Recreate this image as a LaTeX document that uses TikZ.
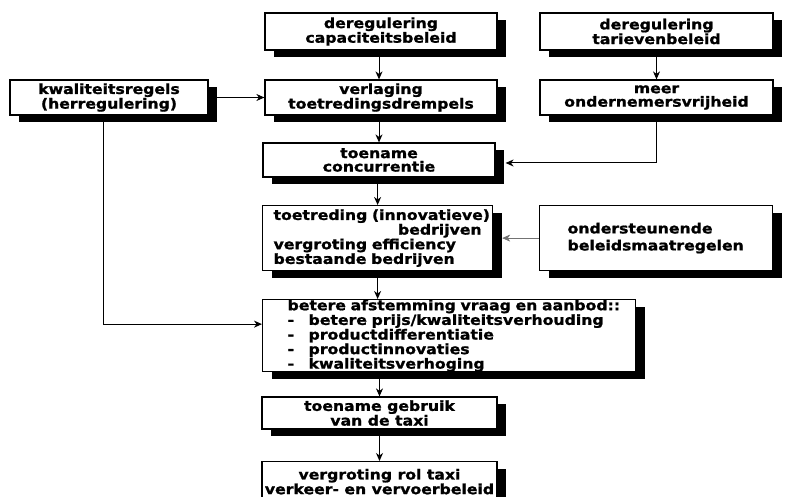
\documentclass[tikz,border=0pt]{standalone}
\usepackage{fontspec}
\newfontfamily\bx{DejaVu Sans}[FakeStretch=1.12, BoldFeatures={FakeStretch=1.12, FakeBold=1.2}]
\hyphenpenalty=10000
\exhyphenpenalty=10000
\usetikzlibrary{arrows.meta,shadows}
\tikzset{
  box/.style={draw, line width=1.2pt, fill=white, inner sep=0pt, align=center,
    font=\bx\bfseries\fontsize{14}{13.5}\selectfont,
    drop shadow={shadow xshift=9pt, shadow yshift=-7pt, fill=black, opacity=1}},
  listbox/.style={box, align=left, font=\bx\bfseries\fontsize{14}{13.3}\selectfont},
  arr/.style={line width=1pt, -{Stealth[length=8pt,width=7pt,inset=2.5pt]}},
  thinarr/.style={arr, line width=0.6pt, black!55},
}
\begin{document}
\begin{tikzpicture}[x=1pt,y=-1pt]
\clip (0,0) rectangle (789,497);
\fill[white] (0,0) rectangle (789,497);

\node[box, minimum width=232pt, minimum height=37pt] (cap) at (381,31.5) {deregulering\\capaciteitsbeleid};
\node[box, minimum width=233pt, minimum height=37pt] (tar) at (656.5,31.5) {deregulering\\tarievenbeleid};
\node[box, minimum width=198pt, minimum height=35pt] (kwal) at (109,97.5) {kwaliteitsregels\\(herregulering)};
\node[box, minimum width=232pt, minimum height=35pt] (verl) at (381,97.5) {verlaging\\toetredingsdrempels};
\node[box, minimum width=233pt, minimum height=35pt] (meer) at (656.5,97.5) {meer\\ondernemersvrijheid};
\node[box, minimum width=232pt, minimum height=34pt] (conc) at (379,160) {toename\\concurrentie};
\node[listbox, anchor=north west, text width=208pt, inner xsep=11pt, minimum height=65pt] (toet) at (262,205)
  {\mbox{toetreding (innovatieve)}\\\mbox{}\hfill bedrijven\\vergroting efficiency\\bestaande bedrijven};
\node[listbox, anchor=north west, text width=177pt, inner xsep=28pt, minimum height=65pt,
  font=\bx\bfseries\fontsize{14}{17}\selectfont] (onder) at (539,205)
  {ondersteunende\\beleidsmaatregelen};
\node[listbox, anchor=north west, text width=323pt, inner xsep=25pt, minimum height=71pt] (bet) at (262,299)
  {\mbox{betere afstemming vraag en aanbod::}\\
   \makebox[21pt][l]{-}betere prijs/kwaliteitsverhouding\\
   \makebox[21pt][l]{-}productdifferentiatie\\
   \makebox[21pt][l]{-}productinnovaties\\
   \makebox[21pt][l]{-}kwaliteitsverhoging};
\node[box, minimum width=235pt, minimum height=32pt] (gebr) at (379.5,413) {toename gebruik\\van de taxi};
\node[box, anchor=north, minimum width=235pt, minimum height=40pt] (vergr) at (379.5,461) {vergroting rol taxi\\verkeer- en vervoerbeleid};

\draw[arr] (cap.south -| conc.north) -- (verl.north -| conc.north);
\draw[arr] (tar.south) -- (meer.north);
\draw[arr] (kwal.east) -- (verl.west);
\draw[arr] (verl.south -| conc.north) -- (conc.north);
\draw[arr] (meer.south) |- ([xshift=10pt,yshift=-3pt]conc.east);
\draw[arr] (conc.south -| toet.north) -- (toet.north);
\draw[thinarr] (onder.west) -- ([xshift=9pt]toet.east);
\draw[arr] (toet.south) -- (toet.south |- bet.north);
\draw[arr] ([xshift=-6pt]kwal.south) |- ([yshift=11.5pt]bet.west);
\draw[arr] (bet.south -| gebr.north) -- (gebr.north);
\draw[arr] (gebr.south) -- (vergr.north);
\end{tikzpicture}
\end{document}
